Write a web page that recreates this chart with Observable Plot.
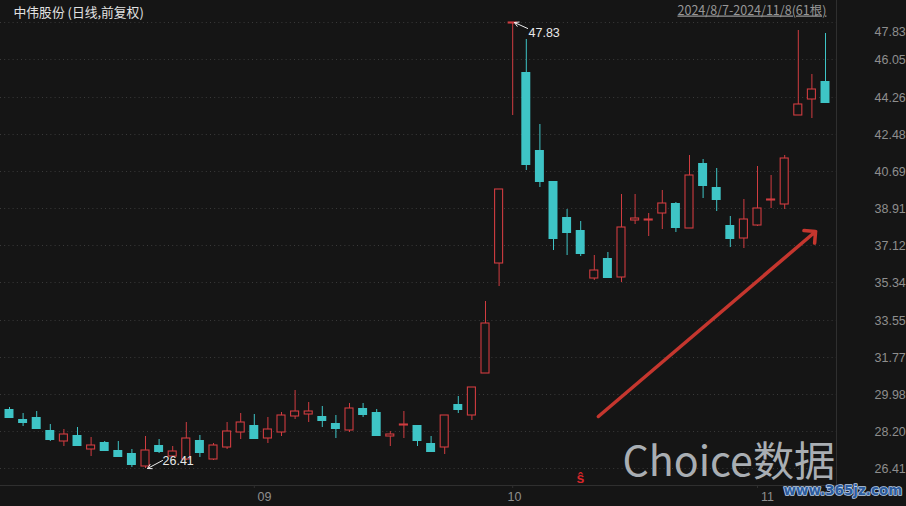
<!DOCTYPE html>
<html>
<head>
<meta charset="utf-8">
<style>
html,body{margin:0;padding:0;background:#151515;overflow:hidden}
svg{display:block}
.range text{text-decoration:underline}
</style>
<script src="https://cdn.jsdelivr.net/npm/d3@7"></script>
<script src="https://cdn.jsdelivr.net/npm/@observablehq/plot@0.6"></script>
</head>
<body>
<script>
const open = [29.24,28.76,28.86,28.27,27.74,28.00,27.34,27.66,27.27,27.13,26.51,27.51,26.99,26.88,27.76,26.86,27.43,28.15,28.48,27.87,28.13,28.92,29.02,28.91,28.57,28.27,29.29,29.09,27.96,28.50,28.48,27.61,27.43,29.52,28.97,30.97,36.27,47.78,45.43,41.68,40.20,38.47,37.84,35.55,36.50,35.62,38.32,38.35,38.67,39.14,37.95,41.09,39.94,38.08,37.47,38.08,39.29,39.08,43.38,44.15,45.03];
const close = [28.83,28.57,28.28,27.76,28.08,27.48,27.55,27.23,26.94,26.55,27.31,27.18,27.26,27.88,27.14,27.51,28.19,28.65,27.84,28.32,28.99,29.18,29.18,28.67,28.28,29.33,28.96,27.96,28.08,28.52,27.71,27.18,28.99,29.20,30.33,33.37,39.84,47.83,40.96,40.15,37.41,37.70,36.69,35.95,35.55,38.02,38.45,38.39,39.17,37.94,40.52,39.97,39.28,37.41,38.40,38.93,39.33,41.33,43.93,44.65,43.96];
const high = [29.35,29.05,29.16,28.52,28.28,28.39,27.91,27.71,27.71,27.36,27.95,27.84,27.48,28.63,28.00,27.63,28.63,29.07,29.00,28.85,29.09,30.16,29.58,29.39,28.96,29.57,29.55,29.26,28.20,29.16,28.48,27.95,28.99,29.87,30.33,34.43,39.84,47.83,47.05,42.93,40.20,38.88,38.27,36.67,36.80,39.60,39.57,38.67,39.76,39.20,41.48,41.25,40.82,38.51,39.33,40.95,40.50,41.44,47.48,45.33,47.34];
const low = [28.81,28.44,28.28,27.71,27.48,27.48,26.99,27.23,26.94,26.47,26.41,27.13,26.96,26.79,26.95,26.83,27.36,27.84,27.84,27.64,27.96,28.80,28.65,28.37,27.85,28.17,28.86,27.96,27.47,27.88,27.48,27.18,27.12,29.07,28.72,30.97,35.15,43.37,40.72,39.92,36.91,36.64,36.61,35.47,35.55,35.36,38.16,37.55,37.92,37.76,37.95,39.41,38.75,37.04,37.01,38.05,38.90,38.88,43.38,43.25,43.96];
const yTicks = [26.41,28.20,29.98,31.77,33.55,35.34,37.12,38.91,40.69,42.48,44.26,46.05,47.83];
const yTop = 47.83;
const monthTicks = [18,37,55];
const monthLabelPos = [18.75,37.13,55.74];
const monthLabels = ["09","10","11"];
const titleText = "中伟股份 (日线,前复权)";
const rangeText = "2024/8/7-2024/11/8(61根)";

const bg = "#151515", up = "#D03C40", down = "#3EC4C6", dim = "#2F2F2F", grid = "#3A3A3A", label = "#8E8E8E";
const latin = "'Liberation Sans',sans-serif";
const candles = open.map((o, i) => ({i, open: o, close: close[i], high: high[i], low: low[i]}));
const rising = candles.filter(d => d.close >= d.open);
const falling = candles.filter(d => d.close < d.open);
const W = 0.33, RW = 0.295;

const chart = Plot.plot({
  width: 906, height: 506,
  marginTop: 0, marginLeft: 0, marginRight: 70, marginBottom: 21,
  style: {background: bg, fontFamily: "'Noto Sans CJK SC','Noto Sans',sans-serif"},
  x: {type: "linear", domain: [0, 60], range: [9, 825]},
  y: {type: "linear", domain: [26.41, 47.83], range: [468.3, 22.3], round: true},
  marks: [
    Plot.ruleY(yTicks, {stroke: grid, strokeDasharray: "1,3.2", strokeWidth: 1}),
    Plot.frame({anchor: "bottom", stroke: dim}),
    Plot.frame({anchor: "right", stroke: dim}),
    Plot.axisY({anchor: "right", ticks: yTicks.filter(t => t !== yTop), tickSize: 0, tickPadding: 38, label: null, tickFormat: d => d.toFixed(2), fill: label, fontSize: 12.5, fontFamily: latin}),
    Plot.text([yTop.toFixed(2)], {frameAnchor: "top-left", dx: 874, dy: 31, textAnchor: "start", lineAnchor: "middle", fill: label, fontSize: 12.5, fontFamily: latin}),
    Plot.axisX({ticks: monthTicks, tickSize: 3, tickFormat: () => "", label: null, stroke: dim, tickPadding: 0}),
    Plot.axisX({ticks: monthLabelPos, tickSize: 0, tickPadding: 7, tickFormat: (d, i) => monthLabels[i], label: null, fill: label, fontSize: 12.5, fontFamily: latin}),
    Plot.ruleX(falling, {x: "i", y1: "low", y2: "high", stroke: down, strokeWidth: 1}),
    Plot.ruleX(rising, {x: "i", y1: "low", y2: "high", stroke: up, strokeWidth: 1}),
    Plot.rect(falling, {x1: d => d.i - W, x2: d => d.i + W, y1: "open", y2: "close", fill: down}),
    Plot.rect(rising, {x1: d => d.i - RW, x2: d => d.i + RW, y1: "open", y2: "close", fill: bg, stroke: up, strokeWidth: 1.1}),
    Plot.arrow([{x1: 38.1, y1: 47.54, x2: 37.13, y2: 47.83}], {x1: "x1", y1: "y1", x2: "x2", y2: "y2", stroke: "#eeeeee", strokeWidth: 1, headLength: 7, bend: false}),
    Plot.arrow([{x1: 11.25, y1: 26.8, x2: 10.15, y2: 26.41}], {x1: "x1", y1: "y1", x2: "x2", y2: "y2", stroke: "#eeeeee", strokeWidth: 1, headLength: 7, bend: false}),
    Plot.text(["47.83"], {frameAnchor: "top-left", dx: 528, dy: 32, textAnchor: "start", lineAnchor: "middle", fill: "#e8e8e8", fontSize: 12.5, fontFamily: latin}),
    Plot.text(["26.41"], {frameAnchor: "top-left", dx: 162, dy: 460, textAnchor: "start", lineAnchor: "middle", fill: "#e8e8e8", fontSize: 12.5, fontFamily: latin}),
    Plot.arrow([{x1: 43.3, y1: 28.91, x2: 59.27, y2: 37.8}], {x1: "x1", y1: "y1", x2: "x2", y2: "y2", stroke: "#C5362E", strokeWidth: 3.5, headLength: 5, headAngle: 90, bend: false}),
    Plot.text([titleText], {frameAnchor: "top-left", dx: 13, dy: 12, textAnchor: "start", lineAnchor: "middle", fill: "#E2E2E2", fontSize: 12.8}),
    Plot.text([rangeText], {frameAnchor: "top-left", dx: 677, dy: 10, textAnchor: "start", lineAnchor: "middle", fill: "#979797", fontSize: 12.5, fontFamily: "'Noto Sans CJK SC',sans-serif", className: "range"}),
    Plot.text(["ŝ"], {frameAnchor: "top-left", dx: 580, dy: 478, textAnchor: "middle", lineAnchor: "middle", fill: "#D6262A", fontSize: 14, fontWeight: "bold", fontFamily: latin}),
    Plot.text(["Choice数据"], {frameAnchor: "top-left", dx: 622, dy: 462, textAnchor: "start", lineAnchor: "middle", fill: "#A9AEB3", fontSize: 41.2, fontWeight: 400, fontFamily: "'Noto Sans CJK SC',sans-serif"}),
    Plot.text(["www.365jz.com"], {frameAnchor: "top-left", dx: 783, dy: 490, textAnchor: "start", lineAnchor: "middle", fill: "#2C5C9E", stroke: "#B9CCE6", strokeWidth: 1.6, fontSize: 13.5, fontWeight: "bold", fontFamily: "'DejaVu Sans',sans-serif"})
  ]
});
document.body.appendChild(chart);
</script>
</body>
</html>
